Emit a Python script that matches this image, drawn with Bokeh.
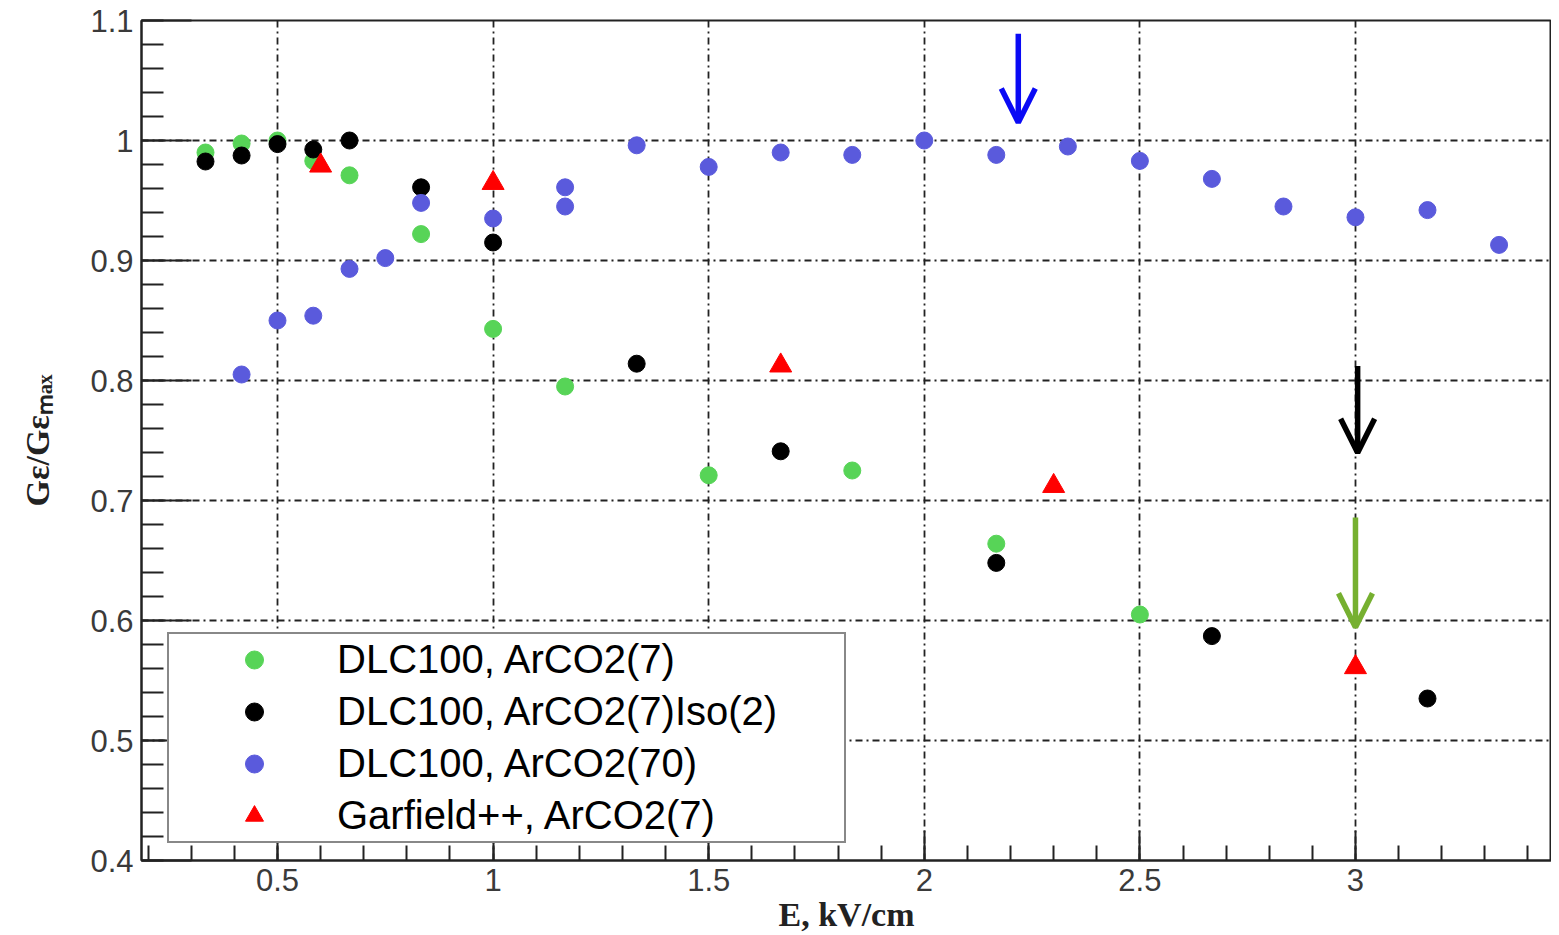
from bokeh.plotting import figure
from bokeh.models import (Range1d, SingleIntervalTicker, CustomJSTickFormatter, Legend, LegendItem,
                          Arrow, OpenHead)
from bokeh.embed import file_html
from bokeh.resources import INLINE

# ---------------- data ----------------
green_x = [0.333, 0.4167, 0.5, 0.583, 0.667, 0.833, 1.0, 1.167, 1.5, 1.833, 2.167, 2.5]
green_y = [0.990, 0.9975, 1.000, 0.983, 0.971, 0.922, 0.843, 0.795, 0.721, 0.725, 0.664, 0.605]

black_x = [0.333, 0.4167, 0.5, 0.583, 0.667, 0.833, 1.0, 1.333, 1.667, 2.167, 2.667, 3.167]
black_y = [0.9825, 0.9875, 0.997, 0.9925, 1.000, 0.961, 0.915, 0.814, 0.741, 0.648, 0.587, 0.535]

blue_x = [0.4167, 0.5, 0.583, 0.667, 0.75, 0.833, 1.0, 1.167, 1.167, 1.333, 1.5, 1.667,
          1.833, 2.0, 2.167, 2.333, 2.5, 2.667, 2.833, 3.0, 3.167, 3.333]
blue_y = [0.805, 0.850, 0.854, 0.893, 0.902, 0.948, 0.935, 0.961, 0.945, 0.996, 0.978, 0.990,
          0.988, 1.000, 0.988, 0.995, 0.983, 0.968, 0.945, 0.936, 0.942, 0.913]

red_x = [0.6, 1.0, 1.667, 2.3, 3.0]
red_y = [0.979, 0.9645, 0.8124, 0.712, 0.561]

labels = ["DLC100, ArCO2(7)", "DLC100, ArCO2(7)Iso(2)", "DLC100, ArCO2(70)", "Garfield++, ArCO2(7)"]

# arrows: x, y_start, y_end, colour
arrow_x = [2.218, 3.005, 3.0]
arrow_y0 = [1.0889, 0.8121, 0.6858]
arrow_y1 = [1.015, 0.7398, 0.5944]
arrow_colors = ["#0a0af5", "#000000", "#76b030"]

x_title = "E, kV/cm"
y_title = "Gε/Gεₘₐₓ"

# ---------------- figure ----------------
W, H = 1551, 935
p = figure(width=W, height=H, output_backend="svg", toolbar_location=None,
           x_range=Range1d(0.1846, 3.4546), y_range=Range1d(0.4, 1.1),
           min_border_left=141, min_border_right=0, min_border_top=20, min_border_bottom=H - 862)
p.background_fill_color = "white"
p.border_fill_color = "white"
p.outline_line_color = "#222222"
p.outline_line_width = 2

p.xaxis.ticker = SingleIntervalTicker(interval=0.5, num_minor_ticks=5)
p.yaxis.ticker = SingleIntervalTicker(interval=0.1, num_minor_ticks=5)
fmt = "return (Math.round(tick*100)/100).toString();"
p.xaxis.formatter = CustomJSTickFormatter(code=fmt)
p.yaxis.formatter = CustomJSTickFormatter(code=fmt)

for ax in (p.xaxis[0], p.yaxis[0]):
    ax.axis_line_color = "#222222"
    ax.axis_line_width = 2
    ax.major_tick_line_color = "#222222"
    ax.major_tick_line_width = 2
    ax.minor_tick_line_color = "#222222"
    ax.minor_tick_line_width = 2
    ax.major_tick_out = 0
    ax.minor_tick_out = 0
    ax.major_label_text_font = "Liberation Sans"
    ax.major_label_text_font_size = "31px"
    ax.major_label_text_color = "#3a3a3a"
    ax.axis_label_text_font = "Liberation Serif"
    ax.axis_label_text_font_style = "bold"
    ax.axis_label_text_font_size = "34px"
    ax.axis_label_text_color = "#222222"

p.yaxis.major_tick_in = 50
p.yaxis.minor_tick_in = 22
p.yaxis.major_label_standoff = 8
p.yaxis.axis_label = y_title
p.yaxis.axis_label_standoff = 31

p.xaxis.major_tick_in = 30
p.xaxis.minor_tick_in = 15
p.xaxis.major_label_standoff = 8
p.xaxis.axis_label = x_title
p.xaxis.axis_label_standoff = 2

for g in (p.xgrid[0], p.ygrid[0]):
    g.grid_line_color = "#222222"
    g.grid_line_width = 1.8
    g.grid_line_dash = "7 4 2 4"

# ---------------- data glyphs ----------------
r_green = p.scatter(green_x, green_y, marker="circle", size=17, fill_color="#57d457", line_color="#57d457")
r_black = p.scatter(black_x, black_y, marker="circle", size=17, fill_color="black", line_color="black")
r_blue = p.scatter(blue_x, blue_y, marker="circle", size=17, fill_color="#5a5adc", line_color="#5a5adc")
r_red = p.scatter(red_x, red_y, marker="triangle", size=22, fill_color="#ff0000", line_color="#ff0000")

# ---------------- arrows ----------------
for ax_, y0, y1, c in zip(arrow_x, arrow_y0, arrow_y1, arrow_colors):
    p.add_layout(Arrow(x_start=ax_, y_start=y0, x_end=ax_, y_end=y1,
                       line_color=c, line_width=5.5,
                       end=OpenHead(size=34, line_color=c, line_width=5.5)))

# ---------------- legend ----------------
legend = Legend(items=[LegendItem(label=labels[0], renderers=[r_green]),
                       LegendItem(label=labels[1], renderers=[r_black]),
                       LegendItem(label=labels[2], renderers=[r_blue]),
                       LegendItem(label=labels[3], renderers=[r_red])],
                location=(26, 17), padding=3, margin=0, spacing=7,
                glyph_width=164, glyph_height=45, label_height=45, label_width=504,
                label_standoff=1, label_text_font="Liberation Sans", label_text_font_size="40px",
                label_text_color="black",
                border_line_color="#111111", border_line_width=2,
                background_fill_color="white", background_fill_alpha=1.0)
p.add_layout(legend, "center")

open("out.html", "w").write(file_html(p, INLINE))
